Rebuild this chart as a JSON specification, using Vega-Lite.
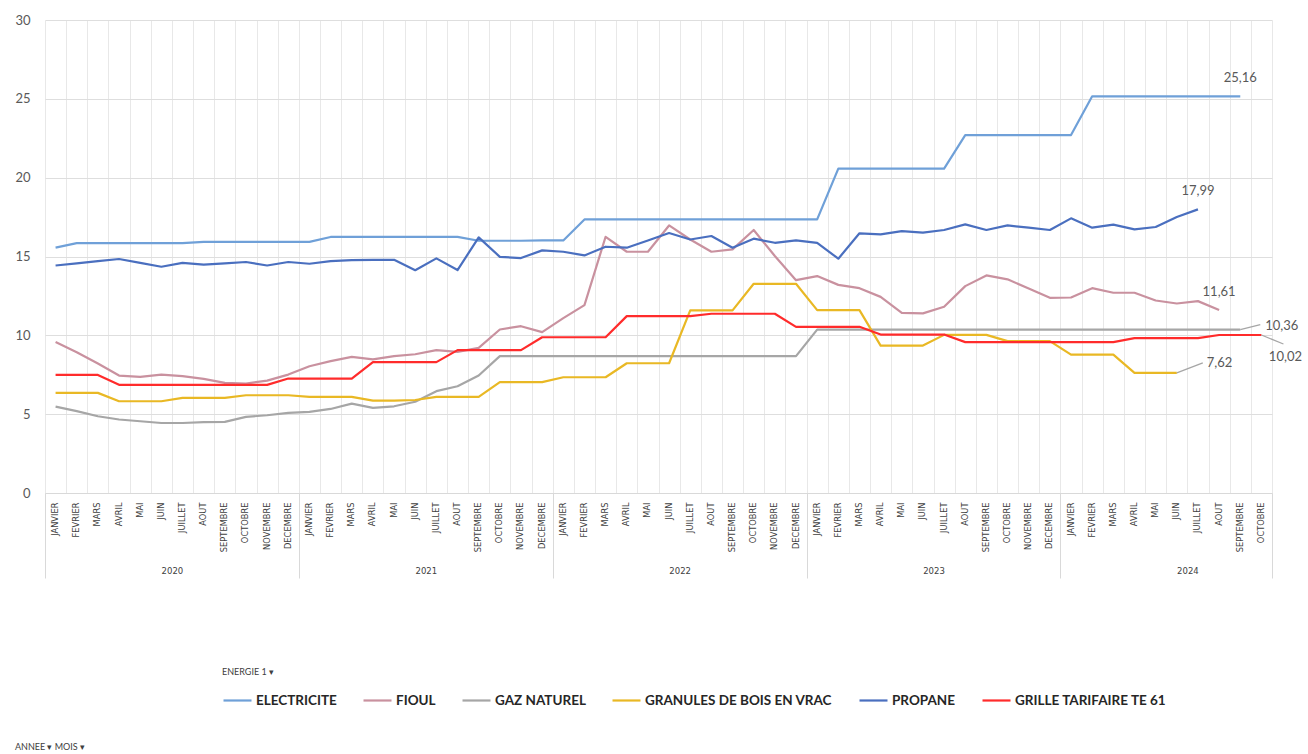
{
  "$schema": "https://vega.github.io/schema/vega-lite/v6.json",
  "width": 1227,
  "height": 473,
  "autosize": {"type": "none"},
  "padding": {"left": 45, "top": 20, "right": 36, "bottom": 261},
  "config": {"view": {"stroke": null}, "font": "Lato"},
  "title": {"text": "ANNEE ▾   MOIS ▾", "orient": "bottom", "anchor": "start", "frame": "bounds", "fontSize": 9, "fontWeight": "normal", "color": "#404040", "offset": 36},
  "datasets": {
    "prix": [
      {"mois":0,"energie":"ELECTRICITE","prix":15.56},{"mois":1,"energie":"ELECTRICITE","prix":15.85},{"mois":2,"energie":"ELECTRICITE","prix":15.85},{"mois":3,"energie":"ELECTRICITE","prix":15.85},{"mois":4,"energie":"ELECTRICITE","prix":15.85},{"mois":5,"energie":"ELECTRICITE","prix":15.85},{"mois":6,"energie":"ELECTRICITE","prix":15.85},{"mois":7,"energie":"ELECTRICITE","prix":15.93},{"mois":8,"energie":"ELECTRICITE","prix":15.93},{"mois":9,"energie":"ELECTRICITE","prix":15.93},{"mois":10,"energie":"ELECTRICITE","prix":15.93},{"mois":11,"energie":"ELECTRICITE","prix":15.93},{"mois":12,"energie":"ELECTRICITE","prix":15.93},{"mois":13,"energie":"ELECTRICITE","prix":16.24},{"mois":14,"energie":"ELECTRICITE","prix":16.24},{"mois":15,"energie":"ELECTRICITE","prix":16.24},{"mois":16,"energie":"ELECTRICITE","prix":16.24},{"mois":17,"energie":"ELECTRICITE","prix":16.24},{"mois":18,"energie":"ELECTRICITE","prix":16.24},{"mois":19,"energie":"ELECTRICITE","prix":16.24},{"mois":20,"energie":"ELECTRICITE","prix":16.0},{"mois":21,"energie":"ELECTRICITE","prix":16.0},{"mois":22,"energie":"ELECTRICITE","prix":16.0},{"mois":23,"energie":"ELECTRICITE","prix":16.02},{"mois":24,"energie":"ELECTRICITE","prix":16.02},{"mois":25,"energie":"ELECTRICITE","prix":17.35},{"mois":26,"energie":"ELECTRICITE","prix":17.35},{"mois":27,"energie":"ELECTRICITE","prix":17.35},{"mois":28,"energie":"ELECTRICITE","prix":17.35},{"mois":29,"energie":"ELECTRICITE","prix":17.35},{"mois":30,"energie":"ELECTRICITE","prix":17.35},{"mois":31,"energie":"ELECTRICITE","prix":17.35},{"mois":32,"energie":"ELECTRICITE","prix":17.35},{"mois":33,"energie":"ELECTRICITE","prix":17.35},{"mois":34,"energie":"ELECTRICITE","prix":17.35},{"mois":35,"energie":"ELECTRICITE","prix":17.35},{"mois":36,"energie":"ELECTRICITE","prix":17.35},{"mois":37,"energie":"ELECTRICITE","prix":20.57},{"mois":38,"energie":"ELECTRICITE","prix":20.57},{"mois":39,"energie":"ELECTRICITE","prix":20.57},{"mois":40,"energie":"ELECTRICITE","prix":20.57},{"mois":41,"energie":"ELECTRICITE","prix":20.57},{"mois":42,"energie":"ELECTRICITE","prix":20.57},{"mois":43,"energie":"ELECTRICITE","prix":22.7},{"mois":44,"energie":"ELECTRICITE","prix":22.7},{"mois":45,"energie":"ELECTRICITE","prix":22.7},{"mois":46,"energie":"ELECTRICITE","prix":22.7},{"mois":47,"energie":"ELECTRICITE","prix":22.7},{"mois":48,"energie":"ELECTRICITE","prix":22.7},{"mois":49,"energie":"ELECTRICITE","prix":25.16},{"mois":50,"energie":"ELECTRICITE","prix":25.16},{"mois":51,"energie":"ELECTRICITE","prix":25.16},{"mois":52,"energie":"ELECTRICITE","prix":25.16},{"mois":53,"energie":"ELECTRICITE","prix":25.16},{"mois":54,"energie":"ELECTRICITE","prix":25.16},{"mois":55,"energie":"ELECTRICITE","prix":25.16},{"mois":56,"energie":"ELECTRICITE","prix":25.16},
      {"mois":0,"energie":"FIOUL","prix":9.57},{"mois":1,"energie":"FIOUL","prix":8.93},{"mois":2,"energie":"FIOUL","prix":8.21},{"mois":3,"energie":"FIOUL","prix":7.45},{"mois":4,"energie":"FIOUL","prix":7.37},{"mois":5,"energie":"FIOUL","prix":7.51},{"mois":6,"energie":"FIOUL","prix":7.41},{"mois":7,"energie":"FIOUL","prix":7.24},{"mois":8,"energie":"FIOUL","prix":6.98},{"mois":9,"energie":"FIOUL","prix":6.94},{"mois":10,"energie":"FIOUL","prix":7.13},{"mois":11,"energie":"FIOUL","prix":7.51},{"mois":12,"energie":"FIOUL","prix":8.04},{"mois":13,"energie":"FIOUL","prix":8.36},{"mois":14,"energie":"FIOUL","prix":8.63},{"mois":15,"energie":"FIOUL","prix":8.47},{"mois":16,"energie":"FIOUL","prix":8.68},{"mois":17,"energie":"FIOUL","prix":8.8},{"mois":18,"energie":"FIOUL","prix":9.06},{"mois":19,"energie":"FIOUL","prix":8.95},{"mois":20,"energie":"FIOUL","prix":9.2},{"mois":21,"energie":"FIOUL","prix":10.37},{"mois":22,"energie":"FIOUL","prix":10.58},{"mois":23,"energie":"FIOUL","prix":10.2},{"mois":24,"energie":"FIOUL","prix":11.09},{"mois":25,"energie":"FIOUL","prix":11.92},{"mois":26,"energie":"FIOUL","prix":16.25},{"mois":27,"energie":"FIOUL","prix":15.3},{"mois":28,"energie":"FIOUL","prix":15.3},{"mois":29,"energie":"FIOUL","prix":16.97},{"mois":30,"energie":"FIOUL","prix":16.08},{"mois":31,"energie":"FIOUL","prix":15.3},{"mois":32,"energie":"FIOUL","prix":15.45},{"mois":33,"energie":"FIOUL","prix":16.68},{"mois":34,"energie":"FIOUL","prix":15.03},{"mois":35,"energie":"FIOUL","prix":13.5},{"mois":36,"energie":"FIOUL","prix":13.76},{"mois":37,"energie":"FIOUL","prix":13.2},{"mois":38,"energie":"FIOUL","prix":12.99},{"mois":39,"energie":"FIOUL","prix":12.44},{"mois":40,"energie":"FIOUL","prix":11.43},{"mois":41,"energie":"FIOUL","prix":11.39},{"mois":42,"energie":"FIOUL","prix":11.81},{"mois":43,"energie":"FIOUL","prix":13.12},{"mois":44,"energie":"FIOUL","prix":13.8},{"mois":45,"energie":"FIOUL","prix":13.55},{"mois":46,"energie":"FIOUL","prix":12.97},{"mois":47,"energie":"FIOUL","prix":12.38},{"mois":48,"energie":"FIOUL","prix":12.4},{"mois":49,"energie":"FIOUL","prix":12.99},{"mois":50,"energie":"FIOUL","prix":12.7},{"mois":51,"energie":"FIOUL","prix":12.7},{"mois":52,"energie":"FIOUL","prix":12.21},{"mois":53,"energie":"FIOUL","prix":12.02},{"mois":54,"energie":"FIOUL","prix":12.17},{"mois":55,"energie":"FIOUL","prix":11.61},
      {"mois":0,"energie":"GAZ NATUREL","prix":5.48},{"mois":1,"energie":"GAZ NATUREL","prix":5.19},{"mois":2,"energie":"GAZ NATUREL","prix":4.87},{"mois":3,"energie":"GAZ NATUREL","prix":4.66},{"mois":4,"energie":"GAZ NATUREL","prix":4.55},{"mois":5,"energie":"GAZ NATUREL","prix":4.44},{"mois":6,"energie":"GAZ NATUREL","prix":4.44},{"mois":7,"energie":"GAZ NATUREL","prix":4.49},{"mois":8,"energie":"GAZ NATUREL","prix":4.51},{"mois":9,"energie":"GAZ NATUREL","prix":4.83},{"mois":10,"energie":"GAZ NATUREL","prix":4.93},{"mois":11,"energie":"GAZ NATUREL","prix":5.08},{"mois":12,"energie":"GAZ NATUREL","prix":5.14},{"mois":13,"energie":"GAZ NATUREL","prix":5.33},{"mois":14,"energie":"GAZ NATUREL","prix":5.67},{"mois":15,"energie":"GAZ NATUREL","prix":5.4},{"mois":16,"energie":"GAZ NATUREL","prix":5.5},{"mois":17,"energie":"GAZ NATUREL","prix":5.79},{"mois":18,"energie":"GAZ NATUREL","prix":6.46},{"mois":19,"energie":"GAZ NATUREL","prix":6.77},{"mois":20,"energie":"GAZ NATUREL","prix":7.45},{"mois":21,"energie":"GAZ NATUREL","prix":8.68},{"mois":22,"energie":"GAZ NATUREL","prix":8.68},{"mois":23,"energie":"GAZ NATUREL","prix":8.68},{"mois":24,"energie":"GAZ NATUREL","prix":8.68},{"mois":25,"energie":"GAZ NATUREL","prix":8.68},{"mois":26,"energie":"GAZ NATUREL","prix":8.68},{"mois":27,"energie":"GAZ NATUREL","prix":8.68},{"mois":28,"energie":"GAZ NATUREL","prix":8.68},{"mois":29,"energie":"GAZ NATUREL","prix":8.68},{"mois":30,"energie":"GAZ NATUREL","prix":8.68},{"mois":31,"energie":"GAZ NATUREL","prix":8.68},{"mois":32,"energie":"GAZ NATUREL","prix":8.68},{"mois":33,"energie":"GAZ NATUREL","prix":8.68},{"mois":34,"energie":"GAZ NATUREL","prix":8.68},{"mois":35,"energie":"GAZ NATUREL","prix":8.68},{"mois":36,"energie":"GAZ NATUREL","prix":10.36},{"mois":37,"energie":"GAZ NATUREL","prix":10.36},{"mois":38,"energie":"GAZ NATUREL","prix":10.36},{"mois":39,"energie":"GAZ NATUREL","prix":10.36},{"mois":40,"energie":"GAZ NATUREL","prix":10.36},{"mois":41,"energie":"GAZ NATUREL","prix":10.36},{"mois":42,"energie":"GAZ NATUREL","prix":10.36},{"mois":43,"energie":"GAZ NATUREL","prix":10.36},{"mois":44,"energie":"GAZ NATUREL","prix":10.36},{"mois":45,"energie":"GAZ NATUREL","prix":10.36},{"mois":46,"energie":"GAZ NATUREL","prix":10.36},{"mois":47,"energie":"GAZ NATUREL","prix":10.36},{"mois":48,"energie":"GAZ NATUREL","prix":10.36},{"mois":49,"energie":"GAZ NATUREL","prix":10.36},{"mois":50,"energie":"GAZ NATUREL","prix":10.36},{"mois":51,"energie":"GAZ NATUREL","prix":10.36},{"mois":52,"energie":"GAZ NATUREL","prix":10.36},{"mois":53,"energie":"GAZ NATUREL","prix":10.36},{"mois":54,"energie":"GAZ NATUREL","prix":10.36},{"mois":55,"energie":"GAZ NATUREL","prix":10.36},{"mois":56,"energie":"GAZ NATUREL","prix":10.36},
      {"mois":0,"energie":"GRANULES DE BOIS EN VRAC","prix":6.35},{"mois":1,"energie":"GRANULES DE BOIS EN VRAC","prix":6.35},{"mois":2,"energie":"GRANULES DE BOIS EN VRAC","prix":6.35},{"mois":3,"energie":"GRANULES DE BOIS EN VRAC","prix":5.82},{"mois":4,"energie":"GRANULES DE BOIS EN VRAC","prix":5.82},{"mois":5,"energie":"GRANULES DE BOIS EN VRAC","prix":5.82},{"mois":6,"energie":"GRANULES DE BOIS EN VRAC","prix":6.03},{"mois":7,"energie":"GRANULES DE BOIS EN VRAC","prix":6.03},{"mois":8,"energie":"GRANULES DE BOIS EN VRAC","prix":6.03},{"mois":9,"energie":"GRANULES DE BOIS EN VRAC","prix":6.2},{"mois":10,"energie":"GRANULES DE BOIS EN VRAC","prix":6.2},{"mois":11,"energie":"GRANULES DE BOIS EN VRAC","prix":6.2},{"mois":12,"energie":"GRANULES DE BOIS EN VRAC","prix":6.1},{"mois":13,"energie":"GRANULES DE BOIS EN VRAC","prix":6.1},{"mois":14,"energie":"GRANULES DE BOIS EN VRAC","prix":6.1},{"mois":15,"energie":"GRANULES DE BOIS EN VRAC","prix":5.86},{"mois":16,"energie":"GRANULES DE BOIS EN VRAC","prix":5.86},{"mois":17,"energie":"GRANULES DE BOIS EN VRAC","prix":5.9},{"mois":18,"energie":"GRANULES DE BOIS EN VRAC","prix":6.1},{"mois":19,"energie":"GRANULES DE BOIS EN VRAC","prix":6.1},{"mois":20,"energie":"GRANULES DE BOIS EN VRAC","prix":6.1},{"mois":21,"energie":"GRANULES DE BOIS EN VRAC","prix":7.03},{"mois":22,"energie":"GRANULES DE BOIS EN VRAC","prix":7.03},{"mois":23,"energie":"GRANULES DE BOIS EN VRAC","prix":7.03},{"mois":24,"energie":"GRANULES DE BOIS EN VRAC","prix":7.34},{"mois":25,"energie":"GRANULES DE BOIS EN VRAC","prix":7.34},{"mois":26,"energie":"GRANULES DE BOIS EN VRAC","prix":7.34},{"mois":27,"energie":"GRANULES DE BOIS EN VRAC","prix":8.23},{"mois":28,"energie":"GRANULES DE BOIS EN VRAC","prix":8.23},{"mois":29,"energie":"GRANULES DE BOIS EN VRAC","prix":8.23},{"mois":30,"energie":"GRANULES DE BOIS EN VRAC","prix":11.58},{"mois":31,"energie":"GRANULES DE BOIS EN VRAC","prix":11.58},{"mois":32,"energie":"GRANULES DE BOIS EN VRAC","prix":11.58},{"mois":33,"energie":"GRANULES DE BOIS EN VRAC","prix":13.27},{"mois":34,"energie":"GRANULES DE BOIS EN VRAC","prix":13.27},{"mois":35,"energie":"GRANULES DE BOIS EN VRAC","prix":13.27},{"mois":36,"energie":"GRANULES DE BOIS EN VRAC","prix":11.6},{"mois":37,"energie":"GRANULES DE BOIS EN VRAC","prix":11.6},{"mois":38,"energie":"GRANULES DE BOIS EN VRAC","prix":11.6},{"mois":39,"energie":"GRANULES DE BOIS EN VRAC","prix":9.35},{"mois":40,"energie":"GRANULES DE BOIS EN VRAC","prix":9.35},{"mois":41,"energie":"GRANULES DE BOIS EN VRAC","prix":9.35},{"mois":42,"energie":"GRANULES DE BOIS EN VRAC","prix":10.03},{"mois":43,"energie":"GRANULES DE BOIS EN VRAC","prix":10.03},{"mois":44,"energie":"GRANULES DE BOIS EN VRAC","prix":10.03},{"mois":45,"energie":"GRANULES DE BOIS EN VRAC","prix":9.63},{"mois":46,"energie":"GRANULES DE BOIS EN VRAC","prix":9.63},{"mois":47,"energie":"GRANULES DE BOIS EN VRAC","prix":9.63},{"mois":48,"energie":"GRANULES DE BOIS EN VRAC","prix":8.78},{"mois":49,"energie":"GRANULES DE BOIS EN VRAC","prix":8.78},{"mois":50,"energie":"GRANULES DE BOIS EN VRAC","prix":8.78},{"mois":51,"energie":"GRANULES DE BOIS EN VRAC","prix":7.62},{"mois":52,"energie":"GRANULES DE BOIS EN VRAC","prix":7.62},{"mois":53,"energie":"GRANULES DE BOIS EN VRAC","prix":7.62},
      {"mois":0,"energie":"PROPANE","prix":14.43},{"mois":1,"energie":"PROPANE","prix":14.56},{"mois":2,"energie":"PROPANE","prix":14.71},{"mois":3,"energie":"PROPANE","prix":14.84},{"mois":4,"energie":"PROPANE","prix":14.6},{"mois":5,"energie":"PROPANE","prix":14.35},{"mois":6,"energie":"PROPANE","prix":14.6},{"mois":7,"energie":"PROPANE","prix":14.48},{"mois":8,"energie":"PROPANE","prix":14.56},{"mois":9,"energie":"PROPANE","prix":14.65},{"mois":10,"energie":"PROPANE","prix":14.43},{"mois":11,"energie":"PROPANE","prix":14.65},{"mois":12,"energie":"PROPANE","prix":14.54},{"mois":13,"energie":"PROPANE","prix":14.71},{"mois":14,"energie":"PROPANE","prix":14.77},{"mois":15,"energie":"PROPANE","prix":14.79},{"mois":16,"energie":"PROPANE","prix":14.79},{"mois":17,"energie":"PROPANE","prix":14.13},{"mois":18,"energie":"PROPANE","prix":14.88},{"mois":19,"energie":"PROPANE","prix":14.14},{"mois":20,"energie":"PROPANE","prix":16.21},{"mois":21,"energie":"PROPANE","prix":14.98},{"mois":22,"energie":"PROPANE","prix":14.9},{"mois":23,"energie":"PROPANE","prix":15.39},{"mois":24,"energie":"PROPANE","prix":15.3},{"mois":25,"energie":"PROPANE","prix":15.07},{"mois":26,"energie":"PROPANE","prix":15.62},{"mois":27,"energie":"PROPANE","prix":15.56},{"mois":28,"energie":"PROPANE","prix":16.02},{"mois":29,"energie":"PROPANE","prix":16.49},{"mois":30,"energie":"PROPANE","prix":16.08},{"mois":31,"energie":"PROPANE","prix":16.3},{"mois":32,"energie":"PROPANE","prix":15.56},{"mois":33,"energie":"PROPANE","prix":16.13},{"mois":34,"energie":"PROPANE","prix":15.87},{"mois":35,"energie":"PROPANE","prix":16.02},{"mois":36,"energie":"PROPANE","prix":15.87},{"mois":37,"energie":"PROPANE","prix":14.86},{"mois":38,"energie":"PROPANE","prix":16.47},{"mois":39,"energie":"PROPANE","prix":16.4},{"mois":40,"energie":"PROPANE","prix":16.61},{"mois":41,"energie":"PROPANE","prix":16.51},{"mois":42,"energie":"PROPANE","prix":16.68},{"mois":43,"energie":"PROPANE","prix":17.04},{"mois":44,"energie":"PROPANE","prix":16.68},{"mois":45,"energie":"PROPANE","prix":16.97},{"mois":46,"energie":"PROPANE","prix":16.83},{"mois":47,"energie":"PROPANE","prix":16.68},{"mois":48,"energie":"PROPANE","prix":17.42},{"mois":49,"energie":"PROPANE","prix":16.83},{"mois":50,"energie":"PROPANE","prix":17.02},{"mois":51,"energie":"PROPANE","prix":16.72},{"mois":52,"energie":"PROPANE","prix":16.87},{"mois":53,"energie":"PROPANE","prix":17.5},{"mois":54,"energie":"PROPANE","prix":17.99},
      {"mois":0,"energie":"GRILLE TARIFAIRE TE 61","prix":7.49},{"mois":1,"energie":"GRILLE TARIFAIRE TE 61","prix":7.49},{"mois":2,"energie":"GRILLE TARIFAIRE TE 61","prix":7.49},{"mois":3,"energie":"GRILLE TARIFAIRE TE 61","prix":6.86},{"mois":4,"energie":"GRILLE TARIFAIRE TE 61","prix":6.86},{"mois":5,"energie":"GRILLE TARIFAIRE TE 61","prix":6.86},{"mois":6,"energie":"GRILLE TARIFAIRE TE 61","prix":6.86},{"mois":7,"energie":"GRILLE TARIFAIRE TE 61","prix":6.86},{"mois":8,"energie":"GRILLE TARIFAIRE TE 61","prix":6.86},{"mois":9,"energie":"GRILLE TARIFAIRE TE 61","prix":6.86},{"mois":10,"energie":"GRILLE TARIFAIRE TE 61","prix":6.86},{"mois":11,"energie":"GRILLE TARIFAIRE TE 61","prix":7.26},{"mois":12,"energie":"GRILLE TARIFAIRE TE 61","prix":7.26},{"mois":13,"energie":"GRILLE TARIFAIRE TE 61","prix":7.26},{"mois":14,"energie":"GRILLE TARIFAIRE TE 61","prix":7.26},{"mois":15,"energie":"GRILLE TARIFAIRE TE 61","prix":8.3},{"mois":16,"energie":"GRILLE TARIFAIRE TE 61","prix":8.3},{"mois":17,"energie":"GRILLE TARIFAIRE TE 61","prix":8.3},{"mois":18,"energie":"GRILLE TARIFAIRE TE 61","prix":8.3},{"mois":19,"energie":"GRILLE TARIFAIRE TE 61","prix":9.06},{"mois":20,"energie":"GRILLE TARIFAIRE TE 61","prix":9.06},{"mois":21,"energie":"GRILLE TARIFAIRE TE 61","prix":9.06},{"mois":22,"energie":"GRILLE TARIFAIRE TE 61","prix":9.06},{"mois":23,"energie":"GRILLE TARIFAIRE TE 61","prix":9.88},{"mois":24,"energie":"GRILLE TARIFAIRE TE 61","prix":9.88},{"mois":25,"energie":"GRILLE TARIFAIRE TE 61","prix":9.88},{"mois":26,"energie":"GRILLE TARIFAIRE TE 61","prix":9.88},{"mois":27,"energie":"GRILLE TARIFAIRE TE 61","prix":11.22},{"mois":28,"energie":"GRILLE TARIFAIRE TE 61","prix":11.22},{"mois":29,"energie":"GRILLE TARIFAIRE TE 61","prix":11.22},{"mois":30,"energie":"GRILLE TARIFAIRE TE 61","prix":11.22},{"mois":31,"energie":"GRILLE TARIFAIRE TE 61","prix":11.37},{"mois":32,"energie":"GRILLE TARIFAIRE TE 61","prix":11.37},{"mois":33,"energie":"GRILLE TARIFAIRE TE 61","prix":11.37},{"mois":34,"energie":"GRILLE TARIFAIRE TE 61","prix":11.37},{"mois":35,"energie":"GRILLE TARIFAIRE TE 61","prix":10.54},{"mois":36,"energie":"GRILLE TARIFAIRE TE 61","prix":10.54},{"mois":37,"energie":"GRILLE TARIFAIRE TE 61","prix":10.54},{"mois":38,"energie":"GRILLE TARIFAIRE TE 61","prix":10.54},{"mois":39,"energie":"GRILLE TARIFAIRE TE 61","prix":10.05},{"mois":40,"energie":"GRILLE TARIFAIRE TE 61","prix":10.05},{"mois":41,"energie":"GRILLE TARIFAIRE TE 61","prix":10.05},{"mois":42,"energie":"GRILLE TARIFAIRE TE 61","prix":10.05},{"mois":43,"energie":"GRILLE TARIFAIRE TE 61","prix":9.57},{"mois":44,"energie":"GRILLE TARIFAIRE TE 61","prix":9.57},{"mois":45,"energie":"GRILLE TARIFAIRE TE 61","prix":9.57},{"mois":46,"energie":"GRILLE TARIFAIRE TE 61","prix":9.57},{"mois":47,"energie":"GRILLE TARIFAIRE TE 61","prix":9.57},{"mois":48,"energie":"GRILLE TARIFAIRE TE 61","prix":9.57},{"mois":49,"energie":"GRILLE TARIFAIRE TE 61","prix":9.57},{"mois":50,"energie":"GRILLE TARIFAIRE TE 61","prix":9.57},{"mois":51,"energie":"GRILLE TARIFAIRE TE 61","prix":9.82},{"mois":52,"energie":"GRILLE TARIFAIRE TE 61","prix":9.82},{"mois":53,"energie":"GRILLE TARIFAIRE TE 61","prix":9.82},{"mois":54,"energie":"GRILLE TARIFAIRE TE 61","prix":9.82},{"mois":55,"energie":"GRILLE TARIFAIRE TE 61","prix":10.02},{"mois":56,"energie":"GRILLE TARIFAIRE TE 61","prix":10.02},{"mois":57,"energie":"GRILLE TARIFAIRE TE 61","prix":10.02}
    ],
    "etiquettes": [
      {"mois":56,"energie":"ELECTRICITE","prix":25.16,"texte":"25,16"},
      {"mois":54,"energie":"PROPANE","prix":17.99,"texte":"17,99"},
      {"mois":55,"energie":"FIOUL","prix":11.61,"texte":"11,61"},
      {"mois":56,"energie":"GAZ NATUREL","prix":10.36,"texte":"10,36"},
      {"mois":57,"energie":"GRILLE TARIFAIRE TE 61","prix":10.02,"texte":"10,02"},
      {"mois":53,"energie":"GRANULES DE BOIS EN VRAC","prix":7.62,"texte":"7,62"}
    ],
    "annees": [
      {"annee":"2020","debut":0},{"annee":"2021","debut":12},{"annee":"2022","debut":24},{"annee":"2023","debut":36},{"annee":"2024","debut":48}
    ]
  },
  "layer": [
    {
      "layer": [
        {
          "data": {"name": "prix"},
          "mark": {"type": "line", "strokeJoin": "round"},
          "encoding": {
            "x": {
              "field": "mois", "type": "ordinal", "bandPosition": 0.5,
              "scale": {"type": "band", "paddingInner": 0, "paddingOuter": 0},
              "axis": {
                "orient": "bottom", "title": null,
                "labelExpr": "['JANVIER','FEVRIER','MARS','AVRIL','MAI','JUIN','JUILLET','AOUT','SEPTEMBRE','OCTOBRE','NOVEMBRE','DECEMBRE'][datum.value % 12]",
                "labelAngle": -90, "labelFont": "DejaVu Sans", "labelFontSize": 8.3, "labelColor": "#404040", "labelPadding": 9,
                "ticks": false, "domainColor": "#d9d9d9", "domainWidth": 1,
                "grid": true, "gridColor": "#e8e8e8", "tickBand": "extent", "labelOverlap": false
              }
            },
            "y": {
              "field": "prix", "type": "quantitative",
              "scale": {"domain": [0, 30], "nice": false},
              "axis": {"title": null, "values": [0,5,10,15,20,25,30], "domain": false, "ticks": false, "labelPadding": 15, "labelFontSize": 13, "labelColor": "#595959", "gridColor": "#dedede"}
            },
            "color": {
              "field": "energie", "type": "nominal",
              "scale": {
                "domain": ["ELECTRICITE","FIOUL","GAZ NATUREL","GRANULES DE BOIS EN VRAC","PROPANE","GRILLE TARIFAIRE TE 61"],
                "range": ["#6fa0d8","#c9919f","#a6a6a6","#e9b824","#4a6fbf","#ff2b2b"]
              },
              "legend": {
                "orient": "none", "legendX": 177, "legendY": 648, "direction": "horizontal",
                "title": "ENERGIE 1 ▾", "titleFontSize": 9, "titleFontWeight": "normal", "titleColor": "#404040", "titlePadding": 8,
                "labelFontSize": 13.5, "labelFontWeight": "bold", "labelColor": "#262626", "labelOffset": 3, "labelLimit": 400,
                "symbolType": "stroke", "symbolSize": 784, "symbolStrokeWidth": 2.5, "columnPadding": 22
              }
            },
            "strokeWidth": {
              "field": "energie", "type": "nominal", "legend": null,
              "scale": {
                "domain": ["ELECTRICITE","FIOUL","GAZ NATUREL","GRANULES DE BOIS EN VRAC","PROPANE","GRILLE TARIFAIRE TE 61"],
                "range": [2.2, 2.2, 2.2, 2.4, 2.4, 2.8]
              }
            }
          }
        },
        {
          "data": {"name": "etiquettes"},
          "transform": [{"filter": "indexof(['ELECTRICITE','PROPANE','FIOUL'], datum.energie) >= 0"}],
          "mark": {"type": "text", "align": "center", "baseline": "middle", "dy": -18, "fontSize": 13, "color": "#595959"},
          "encoding": {
            "x": {"field": "mois", "type": "ordinal", "bandPosition": 0.5, "title": null},
            "y": {"field": "prix", "type": "quantitative", "title": null},
            "text": {"field": "texte"}
          }
        },
        {
          "data": {"name": "etiquettes"},
          "transform": [{"filter": "datum.energie == 'GAZ NATUREL'"}],
          "mark": {"type": "rule", "color": "#a6a6a6", "strokeWidth": 1.3, "x2Offset": 20, "y2Offset": -5},
          "encoding": {
            "x": {"field": "mois", "type": "ordinal", "bandPosition": 0.5, "title": null},
            "x2": {"field": "mois", "bandPosition": 0.5},
            "y": {"field": "prix", "type": "quantitative", "title": null},
            "y2": {"field": "prix"}
          }
        },
        {
          "data": {"name": "etiquettes"},
          "transform": [{"filter": "datum.energie == 'GAZ NATUREL'"}],
          "mark": {"type": "text", "align": "left", "baseline": "middle", "dx": 25, "dy": -4, "fontSize": 13, "color": "#595959"},
          "encoding": {
            "x": {"field": "mois", "type": "ordinal", "bandPosition": 0.5, "title": null},
            "y": {"field": "prix", "type": "quantitative", "title": null},
            "text": {"field": "texte"}
          }
        },
        {
          "data": {"name": "etiquettes"},
          "transform": [{"filter": "datum.energie == 'GRILLE TARIFAIRE TE 61'"}],
          "mark": {"type": "rule", "color": "#a6a6a6", "strokeWidth": 1.3, "x2Offset": 22, "y2Offset": 9},
          "encoding": {
            "x": {"field": "mois", "type": "ordinal", "bandPosition": 0.5, "title": null},
            "x2": {"field": "mois", "bandPosition": 0.5},
            "y": {"field": "prix", "type": "quantitative", "title": null},
            "y2": {"field": "prix"}
          }
        },
        {
          "data": {"name": "etiquettes"},
          "transform": [{"filter": "datum.energie == 'GRILLE TARIFAIRE TE 61'"}],
          "mark": {"type": "text", "align": "center", "baseline": "middle", "dx": 24, "dy": 22, "fontSize": 13, "color": "#595959"},
          "encoding": {
            "x": {"field": "mois", "type": "ordinal", "bandPosition": 0.5, "title": null},
            "y": {"field": "prix", "type": "quantitative", "title": null},
            "text": {"field": "texte"}
          }
        },
        {
          "data": {"name": "etiquettes"},
          "transform": [{"filter": "datum.energie == 'GRANULES DE BOIS EN VRAC'"}],
          "mark": {"type": "rule", "color": "#a6a6a6", "strokeWidth": 1.3, "x2Offset": 26, "y2Offset": -10},
          "encoding": {
            "x": {"field": "mois", "type": "ordinal", "bandPosition": 0.5, "title": null},
            "x2": {"field": "mois", "bandPosition": 0.5},
            "y": {"field": "prix", "type": "quantitative", "title": null},
            "y2": {"field": "prix"}
          }
        },
        {
          "data": {"name": "etiquettes"},
          "transform": [{"filter": "datum.energie == 'GRANULES DE BOIS EN VRAC'"}],
          "mark": {"type": "text", "align": "left", "baseline": "middle", "dx": 30, "dy": -10, "fontSize": 13, "color": "#595959"},
          "encoding": {
            "x": {"field": "mois", "type": "ordinal", "bandPosition": 0.5, "title": null},
            "y": {"field": "prix", "type": "quantitative", "title": null},
            "text": {"field": "texte"}
          }
        }
      ]
    },
    {
      "data": {"name": "annees"},
      "mark": {"type": "point", "opacity": 0},
      "encoding": {
        "x": {
          "field": "debut", "type": "quantitative",
          "scale": {"domain": [0, 58], "nice": false, "zero": false},
          "axis": {
            "orient": "bottom", "title": null,
            "values": [0,6,12,18,24,30,36,42,48,54,58],
            "labelExpr": "datum.value % 12 == 6 ? '' + (2020 + (datum.value - 6) / 12) : ''",
            "tickSize": 85, "tickColor": "#d9d9d9",
            "tickOpacity": {"condition": {"test": "datum.value % 12 == 6", "value": 0}, "value": 1},
            "domain": false, "grid": false, "labelPadding": -12,
            "labelFont": "DejaVu Sans", "labelFontSize": 8.5, "labelColor": "#404040", "labelFlush": false, "labelOverlap": false
          }
        }
      }
    }
  ],
  "resolve": {"scale": {"x": "independent"}, "axis": {"x": "independent"}}
}
